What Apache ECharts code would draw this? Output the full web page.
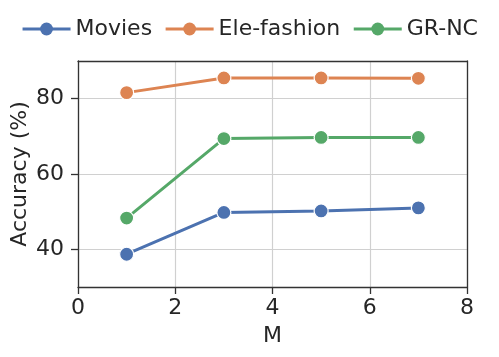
<!DOCTYPE html>
<html lang="en">

<head>
    <meta charset="UTF-8">
    <title>Accuracy vs M</title>
    <style>
        html,
        body {
            margin: 0;
            padding: 0;
            background-color: #fff;
        }

        #chart {
            width: 499px;
            height: 357px;
        }
    </style>
</head>

<body>
    <div id="chart"></div>
    <script src="https://cdn.jsdelivr.net/npm/echarts@6/dist/echarts.min.js"></script>
    <script>
        // values
        const mValues = [1, 3, 5, 7]
        const movies = [38.7, 49.8, 50.2, 51.0]
        const eleFashion = [81.6, 85.5, 85.5, 85.4]
        const grNc = [48.3, 69.4, 69.7, 69.7]
        const yTicks = [40, 60, 80]

        const textColor = '#262626'
        const font = 'DejaVu Sans'
        const axisColor = '#333'

        function makeSeries(name, values, color) {
            return {
                name: name,
                type: 'line',
                data: mValues.map((m, i) => [m, values[i]]),
                symbol: 'circle',
                symbolSize: 14,
                lineStyle: { width: 3, color: color },
                itemStyle: { color: color, borderColor: '#fff', borderWidth: 1.2 },
                emphasis: { disabled: true }
            }
        }

        const chart = echarts.init(document.getElementById('chart'))
        chart.setOption({
            animation: false,
            textStyle: { fontFamily: font, color: textColor },
            legend: {
                top: 13,
                left: 'center',
                itemWidth: 48,
                itemHeight: 16,
                itemGap: 12,
                lineStyle: { width: 3 },
                itemStyle: { borderWidth: 0 },
                textStyle: { fontSize: 22, color: textColor, fontFamily: font }
            },
            grid: { left: 78, right: 32, top: 61, bottom: 70, containLabel: false, outerBoundsMode: 'none' },
            xAxis: [{
                type: 'value',
                min: 0,
                max: 8,
                interval: 2,
                name: 'M',
                nameLocation: 'middle',
                nameGap: 38,
                nameMoveOverlap: false,
                nameTextStyle: { fontSize: 22, color: textColor },
                axisLine: { show: true, lineStyle: { color: axisColor, width: 1.3 } },
                axisTick: { show: true, length: 7, lineStyle: { color: axisColor, width: 1.3 } },
                axisLabel: { fontSize: 22, color: textColor, margin: 10 },
                splitLine: { show: true, lineStyle: { color: '#d0d0d0', width: 1.2 } }
            }, {
                // top spine
                type: 'value', min: 0, max: 8, position: 'top',
                axisLine: { show: true, onZero: false, lineStyle: { color: axisColor, width: 1.3 } },
                axisTick: { show: false }, axisLabel: { show: false }, splitLine: { show: false }
            }],
            yAxis: [{
                type: 'value',
                min: 30,
                max: 90,
                name: 'Accuracy (%)',
                nameLocation: 'middle',
                nameGap: 47,
                nameMoveOverlap: false,
                nameTextStyle: { fontSize: 22, color: textColor },
                axisLine: { show: true, lineStyle: { color: axisColor, width: 1.3 } },
                axisTick: { show: true, length: 7, customValues: yTicks, lineStyle: { color: axisColor, width: 1.3 } },
                axisLabel: { fontSize: 22, color: textColor, margin: 14, customValues: yTicks },
                splitLine: { show: true, lineStyle: { color: '#d0d0d0', width: 1.2 } }
            }, {
                // right spine
                type: 'value', min: 30, max: 90, position: 'right',
                axisLine: { show: true, onZero: false, lineStyle: { color: axisColor, width: 1.3 } },
                axisTick: { show: false }, axisLabel: { show: false }, splitLine: { show: false }
            }],
            series: [
                makeSeries('Movies', movies, '#4c72b0'),
                makeSeries('Ele-fashion', eleFashion, '#dd8452'),
                makeSeries('GR-NC', grNc, '#55a868')
            ]
        })
    </script>
</body>

</html>
